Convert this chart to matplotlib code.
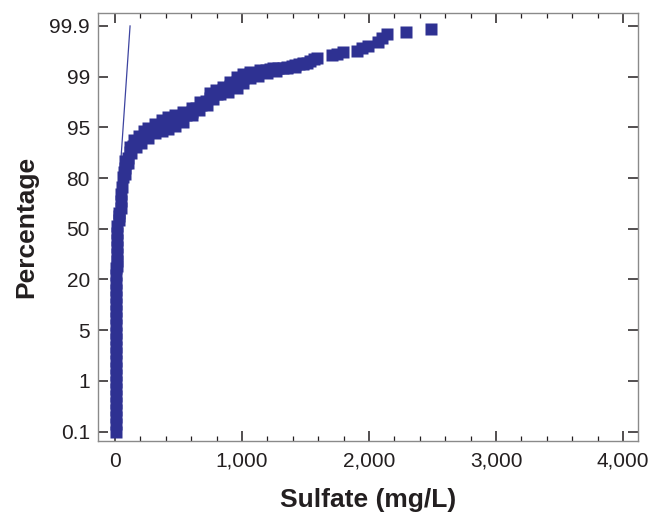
import numpy as np
import matplotlib.pyplot as plt
from matplotlib.ticker import MultipleLocator, FuncFormatter

plt.rcParams['font.family'] = ['Liberation Sans', 'DejaVu Sans']

# probability axis: tick percentages, drawn evenly spaced
pct_ticks = [0.1, 1, 5, 20, 50, 80, 95, 99, 99.9]
pct_labels = ['0.1', '1', '5', '20', '50', '80', '95', '99', '99.9']

# sulfate values (mg/L) and their cumulative percentages
sulfate = [5, 5, 5, 6, 6, 6, 6, 6, 7, 7, 7, 7, 7, 7, 7, 7, 7, 8, 8, 8, 8, 8, 8, 8,
           18, 18, 19, 19, 19, 19, 20,
           30, 31, 32,
           44, 46,
           50, 52, 66, 72, 80, 90, 99, 119, 143, 166, 198, 237,
           276, 324, 368, 418, 473, 520, 560, 604, 638, 678,
           717, 748, 800, 851, 906, 959, 1008, 1063, 1111, 1158,
           1190, 1221, 1250, 1284, 1320, 1355, 1390, 1418, 1450, 1481,
           1510, 1536, 1565, 1592, 1706, 1748, 1798,
           1903, 1945, 1994, 2073, 2102, 2139, 2289, 2486]
percent = [0.1, 0.23, 0.35, 0.48, 0.6, 0.73, 0.86, 0.98, 1.5, 2.0, 2.6, 3.2, 3.7, 4.3, 4.8,
           6.5, 8.6, 10.7, 12.8, 14.9, 17.0, 19.1, 22.4, 26.6,
           28.1, 30.8, 35.0, 39.2, 43.4, 47.6, 51.8,
           55.4, 57.5, 59.5,
           62.0, 66.5,
           70.4, 74.9, 80.3, 81.7, 83.0, 84.5, 86.0, 87.8, 89.5, 91.0, 92.2, 93.4,
           94.3, 95.0, 95.2, 95.4, 95.5, 95.8, 96.0, 96.2, 96.5, 96.8,
           97.1, 97.3, 97.6, 97.96, 98.3, 98.56, 98.9, 99.04, 99.07, 99.1,
           99.12, 99.13, 99.14, 99.15, 99.16, 99.17, 99.19, 99.21, 99.22, 99.23,
           99.25, 99.28, 99.31, 99.34, 99.38, 99.40, 99.43,
           99.46, 99.50, 99.55, 99.62, 99.69, 99.76, 99.80, 99.85]

# points along the upper and lower edge of the dense band (80-99 % region)
band_sulfate = [76, 115, 150, 190, 230, 264, 316, 371, 418, 473, 536, 604, 670, 749, 796,
                853, 906, 959, 1008, 1063, 1142, 1247,
                79, 103, 127, 166, 205, 260, 316, 371, 418, 473, 536, 604, 662, 723, 772,
                827, 890, 959, 1008, 1063, 1126, 1195, 1268, 1352, 1418, 1483]
band_percent = [85.1, 89.1, 91.2, 92.5, 93.9, 94.85, 95.28, 95.57, 95.8, 95.97, 96.23, 96.5,
                97.0, 97.7, 97.96, 98.2, 98.6, 99.0, 99.05, 99.08, 99.12, 99.15,
                81.2, 84.5, 87.5, 89.3, 90.5, 91.9, 93.3, 94.0, 94.6, 95.1, 95.4, 96.0, 96.4,
                96.8, 97.2, 97.6, 97.8, 98.1, 98.5, 98.9, 99.01, 99.06, 99.1, 99.15, 99.18,
                99.24]

# fitted reference line
fit_x = [26, 119]
fit_pct = [68.0, 99.9]


def prob_pos(p):
    return np.interp(p, pct_ticks, np.arange(len(pct_ticks)))


fig = plt.figure(figsize=(6.48, 5.19), dpi=100)
ax = fig.add_axes([0.1517, 0.1509, 0.8324, 0.8235])

ax.plot(fit_x, prob_pos(fit_pct), color='#3d44a0', lw=0.9, zorder=2)
ax.plot(sulfate + band_sulfate, prob_pos(percent + band_percent), 's', color='#2e3192',
        ms=8.0, mec='none', zorder=3)

ax.set_xlim(-131, 4115)
ax.set_ylim(-0.18, 8.25)

ax.set_xticks([0, 1000, 2000, 3000, 4000])
ax.xaxis.set_major_formatter(FuncFormatter(lambda v, p: f'{int(v):,}'))
ax.xaxis.set_minor_locator(MultipleLocator(200))
ax.set_yticks(range(len(pct_ticks)))
ax.set_yticklabels(pct_labels)

ax.tick_params(which='both', direction='in', top=True, right=True, color='#231f20',
               labelcolor='#231f20')
ax.tick_params(which='major', length=7, width=1.1, labelsize=15)
ax.tick_params(which='minor', length=3.6, width=0.9)
ax.tick_params(axis='y', pad=6)
ax.tick_params(axis='x', pad=8)

for s in ax.spines.values():
    s.set_color('#8a8a8a')
    s.set_linewidth(1.0)

ax.set_xlabel('Sulfate (mg/L)', fontsize=19, fontweight='bold', color='#231f20', va='center')
ax.xaxis.set_label_coords(0.5, -0.139)
ax.set_ylabel('Percentage', fontsize=19, fontweight='bold', color='#231f20', va='center')
ax.yaxis.set_label_coords(-0.134, 0.5)

fig.savefig('out.png', dpi=100)
